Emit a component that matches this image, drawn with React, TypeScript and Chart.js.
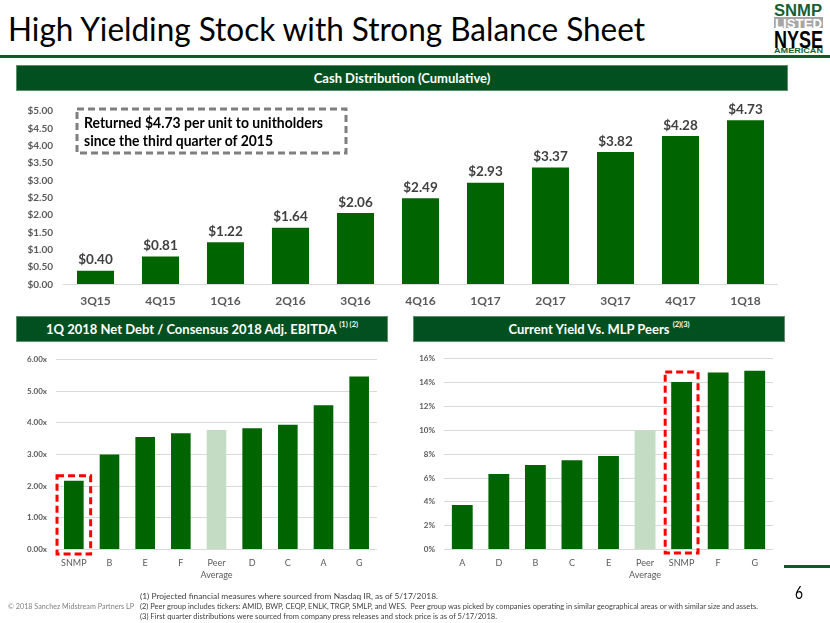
import React, { useEffect, useLayoutEffect, useRef } from "react";
import { Chart, registerables } from "chart.js";

Chart.register(...registerables);

// ---------- DATA ----------
const quarters = ["3Q15", "4Q15", "1Q16", "2Q16", "3Q16", "4Q16", "1Q17", "2Q17", "3Q17", "4Q17", "1Q18"];
const cumulativeDistribution = [0.4, 0.81, 1.22, 1.64, 2.06, 2.49, 2.93, 3.37, 3.82, 4.28, 4.73];

const leverageLabels: (string | string[])[] = ["SNMP", "B", "E", "F", ["Peer", "Average"], "D", "C", "A", "G"];
const leverageValues = [2.17, 3.0, 3.55, 3.67, 3.77, 3.83, 3.94, 4.55, 5.46];

const yieldLabels: (string | string[])[] = ["A", "D", "B", "C", "E", ["Peer", "Average"], "SNMP", "F", "G"];
const yieldValues = [3.75, 6.35, 7.1, 7.5, 7.85, 10.0, 14.05, 14.85, 15.0];

const footnotes = [
  "(1) Projected financial measures where sourced from Nasdaq IR, as of 5/17/2018.",
  "(2) Peer group includes tickers: AMID, BWP, CEQP, ENLK, TRGP, SMLP, and WES.  Peer group was picked by companies operating in similar geographical areas or with similar size and assets.",
  "(3) First quarter distributions were sourced from company press releases and stock price is as of 5/17/2018.",
];

// ---------- STYLE ----------
const FONT = "Lato, 'Open Sans', sans-serif";
const GREEN = "#006400";
const PEER = "#c3dcc3";
const HEADER = "#02501f";
const TICK = "#595959";

function barColors(labels: (string | string[])[]) {
  return labels.map((l) => (Array.isArray(l) ? PEER : GREEN));
}
function snmpIndex(labels: (string | string[])[]) {
  return labels.findIndex((l) => l === "SNMP");
}

const valueLabelPlugin = {
  id: "valueLabels",
  afterDatasetsDraw(chart: any) {
    const ctx = chart.ctx;
    const meta = chart.getDatasetMeta(0);
    const data = chart.data.datasets[0].data as number[];
    ctx.save();
    ctx.font = `bold 13.5px ${FONT}`;
    ctx.fillStyle = "#404040";
    ctx.textAlign = "center";
    ctx.textBaseline = "bottom";
    meta.data.forEach((el: any, i: number) => {
      ctx.fillText("$" + data[i].toFixed(2), el.x, el.y - 4);
    });
    ctx.restore();
  },
};

function highlightPlugin(index: number, padX: number, padTop: number, padBottom: number) {
  return {
    id: "highlight",
    afterDatasetsDraw(chart: any) {
      const el: any = chart.getDatasetMeta(0).data[index];
      if (!el) return;
      const ctx = chart.ctx;
      const x0 = el.x - el.width / 2 - padX;
      const y0 = el.y - padTop;
      const w = el.width + padX * 2;
      const h = el.base - el.y + padTop + padBottom;
      ctx.save();
      ctx.strokeStyle = "#ff0000";
      ctx.lineWidth = 3;
      ctx.setLineDash([7, 4]);
      ctx.strokeRect(x0, y0, w, h);
      ctx.restore();
    },
  };
}

function ChartCanvas({ config, left, top, width, height }: any) {
  const ref = useRef<HTMLCanvasElement>(null);
  useEffect(() => {
    if (!ref.current) return;
    const chart = new Chart(ref.current, config());
    return () => chart.destroy();
  }, []);
  return (
    <canvas
      ref={ref}
      width={width}
      height={height}
      style={{ position: "absolute", left, top, width, height }}
    />
  );
}

function Fit({ w, style, children }: any) {
  const ref = useRef<HTMLSpanElement>(null);
  useLayoutEffect(() => {
    const apply = () => {
      const el = ref.current;
      if (!el) return;
      el.style.transform = "none";
      const actual = el.getBoundingClientRect().width;
      if (actual > 0) el.style.transform = `scaleX(${w / actual})`;
    };
    apply();
    (document as any).fonts?.ready?.then(apply);
  }, [w]);
  return (
    <span
      ref={ref}
      style={{
        position: "absolute",
        whiteSpace: "pre",
        display: "inline-block",
        transformOrigin: "left center",
        lineHeight: 1,
        ...style,
      }}
    >
      {children}
    </span>
  );
}

function Header({ left, top, width, height, children, size }: any) {
  return (
    <div
      style={{
        position: "absolute",
        left,
        top,
        width,
        height,
        background: HEADER,
        boxSizing: "border-box",
        border: "1px solid #5f8f6a",
        color: "#fff",
        fontFamily: FONT,
        fontWeight: 700,
        fontSize: size,
        display: "flex",
        alignItems: "center",
        justifyContent: "center",
        whiteSpace: "nowrap",
      }}
    >
      {children}
    </div>
  );
}

const topConfig = () => ({
  type: "bar",
  data: {
    labels: quarters,
    datasets: [
      {
        data: cumulativeDistribution,
        backgroundColor: GREEN,
        barPercentage: 0.57,
        categoryPercentage: 1,
      },
    ],
  },
  options: {
    animation: false,
    responsive: false,
    maintainAspectRatio: false,
    layout: { padding: { top: 14.5, right: 12, bottom: 0, left: 0 } },
    plugins: { legend: { display: false }, tooltip: { enabled: false } },
    scales: {
      x: {
        grid: { display: false, drawTicks: false },
        border: { display: false },
        ticks: {
          color: TICK,
          font: { family: FONT, size: 12, weight: "bold" },
          padding: 9,
          maxRotation: 0,
          minRotation: 0,
          autoSkip: false,
        },
      },
      y: {
        min: 0,
        max: 5,
        afterFit: (s: any) => {
          s.width = 53;
        },
        grid: {
          color: (c: any) => (c.tick && c.tick.value === 0 ? "#d9d9d9" : "rgba(0,0,0,0)"),
          drawTicks: false,
        },
        border: { display: false },
        ticks: {
          stepSize: 0.5,
          callback: (v: any) => "$" + Number(v).toFixed(2),
          color: TICK,
          font: { family: FONT, size: 10, weight: "bold" },
          padding: 10,
        },
      },
    },
  },
  plugins: [valueLabelPlugin],
});

function smallConfig(
  labels: (string | string[])[],
  values: number[],
  max: number,
  step: number,
  fmt: (v: number) => string,
  axisWidth: number,
  padRight: number,
  padTop: number,
  barPct: number,
  hl: [number, number, number]
) {
  return () => ({
    type: "bar",
    data: {
      labels,
      datasets: [
        {
          data: values,
          backgroundColor: barColors(labels),
          barPercentage: barPct,
          categoryPercentage: 1,
        },
      ],
    },
    options: {
      animation: false,
      responsive: false,
      maintainAspectRatio: false,
      layout: { padding: { top: padTop, right: padRight, bottom: 0, left: 0 } },
      plugins: { legend: { display: false }, tooltip: { enabled: false } },
      scales: {
        x: {
          grid: { display: false, drawTicks: false },
          border: { display: false },
          ticks: {
            color: TICK,
            font: { family: FONT, size: 9, lineHeight: 1.3 },
            padding: 8,
            maxRotation: 0,
            minRotation: 0,
            autoSkip: false,
          },
        },
        y: {
          min: 0,
          max,
          afterFit: (s: any) => {
            s.width = axisWidth;
          },
          grid: { color: "#d9d9d9", drawTicks: false },
          border: { display: false },
          ticks: {
            stepSize: step,
            callback: (v: any) => fmt(Number(v)),
            color: TICK,
            font: { family: FONT, size: 8, weight: "bold" },
            padding: 9,
          },
        },
      },
    },
    plugins: [highlightPlugin(snmpIndex(labels), hl[0], hl[1], hl[2])],
  });
}

const leverageConfig = smallConfig(
  leverageLabels,
  leverageValues,
  6,
  1,
  (v) => v.toFixed(2) + "x",
  46,
  13,
  14.3,
  0.55,
  [7, 5, 5]
);

const yieldConfig = smallConfig(
  yieldLabels,
  yieldValues,
  16,
  2,
  (v) => v.toFixed(0) + "%",
  34,
  17,
  13.3,
  0.57,
  [6, 10, 4]
);

export default function App() {
  return (
    <div
      style={{
        position: "absolute",
        left: 0,
        top: 0,
        width: 830,
        height: 623,
        background: "#fff",
        overflow: "hidden",
        fontFamily: FONT,
      }}
    >
      {/* Title */}
      <Fit w={637} style={{ left: 8, top: 12, fontSize: 33, color: "#000", fontWeight: 400 }}>
        High Yielding Stock with Strong Balance Sheet
      </Fit>

      {/* Logo */}
      <Fit w={48} style={{ left: 774, top: 3, fontSize: 16, fontWeight: 900, color: "#1a5e30", fontFamily: "'Liberation Sans', Arial, sans-serif" }}>
        SNMP
      </Fit>
      <div style={{ position: "absolute", left: 774, top: 17, width: 49, height: 11, background: "#a6a6a6" }} />
      <Fit w={47} style={{ left: 775, top: 17.5, fontSize: 12, fontWeight: 700, color: "#fff", fontFamily: "'Liberation Sans', Arial, sans-serif" }}>
        LISTED
      </Fit>
      <Fit w={49} style={{ left: 774, top: 27.5, fontSize: 24, fontWeight: 700, color: "#000", fontFamily: "'Liberation Sans', Arial, sans-serif" }}>
        NYSE
      </Fit>
      <Fit w={49} style={{ left: 774, top: 47.5, fontSize: 6.5, fontWeight: 700, color: "#1a5e30", fontFamily: "'Liberation Sans', Arial, sans-serif" }}>
        AMERICAN
      </Fit>

      {/* Rule */}
      <div style={{ position: "absolute", left: 0, top: 55, width: 830, height: 2.5, background: "#0e5a2a" }} />

      {/* Headers */}
      <Header left={16} top={65} width={772} height={26} size={13}>
        Cash Distribution (Cumulative)
      </Header>
      <Header left={16} top={316} width={372} height={26} size={13}>
        1Q 2018 Net Debt / Consensus 2018 Adj. EBITDA&nbsp;
        <span style={{ fontSize: 7.5, position: "relative", top: -5 }}>(1) (2)</span>
      </Header>
      <Header left={413} top={316} width={372} height={26} size={13}>
        Current Yield Vs. MLP Peers&nbsp;
        <span style={{ fontSize: 7.5, position: "relative", top: -5 }}>(2)(3)</span>
      </Header>

      {/* Charts */}
      <ChartCanvas config={topConfig} left={10} top={95} width={780} height={222} />
      <ChartCanvas config={leverageConfig} left={10} top={345} width={380} height={244} />
      <ChartCanvas config={yieldConfig} left={410} top={345} width={380} height={244} />

      {/* Annotation box */}
      <svg style={{ position: "absolute", left: 0, top: 0, width: 830, height: 623, pointerEvents: "none" }}>
        <rect x={77} y={109} width={269} height={44} fill="none" stroke="#7f7f7f" strokeWidth={3} strokeDasharray="7 4" />
      </svg>
      <Fit w={239} style={{ left: 84, top: 114, fontSize: 16, fontWeight: 700, color: "#000" }}>
        Returned $4.73 per unit to unitholders
      </Fit>
      <Fit w={189} style={{ left: 84, top: 132, fontSize: 16, fontWeight: 700, color: "#000" }}>
        since the third quarter of 2015
      </Fit>

      {/* Page number */}
      <div style={{ position: "absolute", left: 784, top: 565, width: 46, height: 3, background: "#0e5a2a" }} />
      <Fit w={8} style={{ left: 795, top: 583, fontSize: 18, color: "#000" }}>
        6
      </Fit>

      {/* Footer */}
      <Fit w={126} style={{ left: 8, top: 602, fontSize: 8, color: "#7f7f7f" }}>
        © 2018 Sanchez Midstream Partners LP
      </Fit>
      <Fit w={298} style={{ left: 140, top: 592, fontSize: 8, color: "#404040" }}>
        {footnotes[0]}
      </Fit>
      <Fit w={618} style={{ left: 140, top: 602, fontSize: 8, color: "#404040" }}>
        {footnotes[1]}
      </Fit>
      <Fit w={357} style={{ left: 140, top: 612, fontSize: 8, color: "#404040" }}>
        {footnotes[2]}
      </Fit>
    </div>
  );
}
